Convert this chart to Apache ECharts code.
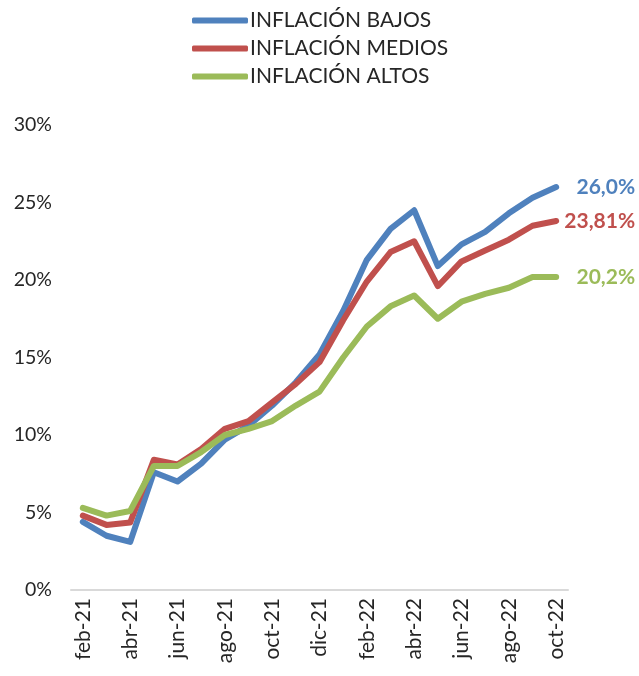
<!DOCTYPE html>
<html>
<head>
<meta charset="utf-8">
<script src="https://cdn.jsdelivr.net/npm/echarts@6/dist/echarts.min.js"></script>
<style>
  html, body { margin: 0; padding: 0; background: #fff; }
  #chart { width: 639px; height: 676px; }
</style>
</head>
<body>
<div id="chart"></div>
<script>
const months = ['feb-21', 'mar-21', 'abr-21', 'may-21', 'jun-21', 'jul-21', 'ago-21', 'sep-21', 'oct-21', 'nov-21', 'dic-21',
  'ene-22', 'feb-22', 'mar-22', 'abr-22', 'may-22', 'jun-22', 'jul-22', 'ago-22', 'sep-22', 'oct-22']
const bajos = [4.4, 3.5, 3.1, 7.6, 7.0, 8.15, 9.7, 10.6, 11.9, 13.4, 15.2, 18.0, 21.3, 23.3, 24.5, 20.9, 22.3, 23.1, 24.3, 25.3, 26.0]
const medios = [4.8, 4.2, 4.35, 8.4, 8.1, 9.1, 10.4, 10.9, 12.1, 13.3, 14.7, 17.4, 19.9, 21.8, 22.5, 19.6, 21.2, 21.9, 22.6, 23.5, 23.81]
const altos = [5.3, 4.8, 5.1, 8.0, 8.0, 8.9, 10.0, 10.4, 10.9, 11.9, 12.8, 15.0, 17.0, 18.3, 19.0, 17.5, 18.6, 19.1, 19.5, 20.2, 20.2]
const names = ['INFLACIÓN BAJOS', 'INFLACIÓN MEDIOS', 'INFLACIÓN ALTOS']
const endLabels = ['26,0%', '23,81%', '20,2%']
const colors = ['#4F81BD', '#C0504D', '#9BBB59']

const font = 'Lato, "Noto Sans", sans-serif'
const mychart = echarts.init(document.getElementById('chart'))

function mkSeries (i, data) {
  return {
    name: names[i],
    type: 'line',
    data: data,
    symbol: 'none',
    lineStyle: { width: 6, color: colors[i], cap: 'round', join: 'round' },
    itemStyle: { color: colors[i] },
    endLabel: {
      show: true,
      formatter: () => endLabels[i],
      color: colors[i],
      fontWeight: 'bold',
      fontSize: 21,
      fontFamily: font,
      distance: 0,
      align: 'right', // right edge of the label at the picture's border
      offset: [79, 0]
    }
  }
}

mychart.setOption({
  animation: false,
  legend: {
    orient: 'vertical',
    left: 187,
    top: 5,
    itemWidth: 56,
    itemHeight: 6,
    itemGap: 7,
    icon: 'roundRect',
    textStyle: { fontSize: 21, color: '#262626', fontFamily: font, padding: [0, 0, 0, -3] },
    data: names
  },
  grid: {
    left: 71,
    right: 71,
    top: 125,
    bottom: 86,
    containLabel: false
  },
  xAxis: {
    type: 'category',
    data: months,
    boundaryGap: true,
    axisLine: { lineStyle: { color: '#d9d9d9', width: 2 } },
    axisTick: { show: false },
    axisLabel: {
      interval: 1,
      rotate: 90,
      fontSize: 21,
      color: '#262626',
      fontFamily: font,
      margin: 8
    }
  },
  yAxis: {
    type: 'value',
    min: 0,
    max: 30,
    interval: 5,
    axisLine: { show: false },
    axisTick: { show: false },
    splitLine: { show: false },
    axisLabel: {
      formatter: '{value}%',
      fontSize: 19.5,
      color: '#262626',
      fontFamily: font,
      margin: 19
    }
  },
  series: [mkSeries(0, bajos), mkSeries(1, medios), mkSeries(2, altos)]
})
</script>
</body>
</html>
